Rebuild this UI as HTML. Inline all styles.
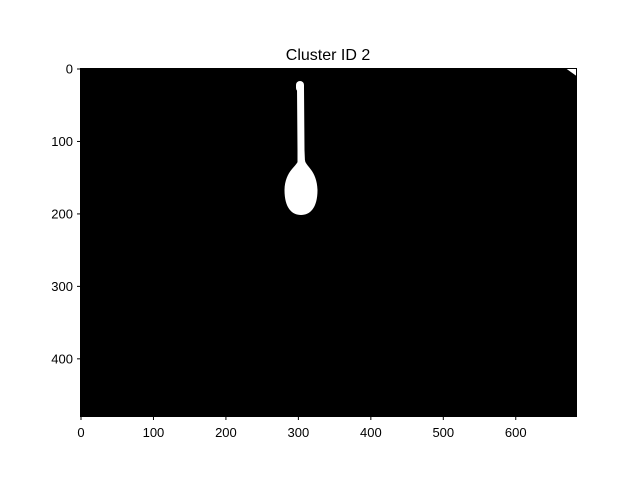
<!DOCTYPE html>
<html><head><meta charset="utf-8"><style>body{margin:0;background:#fff}svg{display:block}text{font-family:"Liberation Sans",sans-serif;font-size:13px;fill:#000}</style></head>
<body>
<svg id="c" width="640" height="480">
<text x="328" y="60" text-anchor="middle" style="font-size:16px">Cluster ID 2</text>
<rect x="80.5" y="68.5" width="496" height="348" fill="#000"/>
<g fill="#fff">
<rect x="296" y="81" width="8" height="11" rx="4"/>
<path d="M297,88 L304,88 L304.5,150 L305,162 L297.5,162 L297.5,150 Z"/>
<path d="M298,160 C298,166 285,170 284.5,190 C284.5,208 292,215 301,215 C310,215 317.5,208 317.5,190 C317,170 305,166 305,160 Z"/>
</g>
<path d="M566,68.5 L576.5,68.5 L576.5,76 Z" fill="#fff"/>
<rect x="80.5" y="68.5" width="496" height="348" fill="none" stroke="#000" stroke-width="1"/>
<g id="xt"></g>
<g id="yt"></g>
</svg>
<script>
const xTicks=[0,100,200,300,400,500,600];
const yTicks=[0,100,200,300,400];
const x0=81,y0=69,s=0.7246;
const ns="http://www.w3.org/2000/svg";
const xt=document.getElementById('xt'),yt=document.getElementById('yt');
xTicks.forEach(v=>{const x=x0+v*s;
const l=document.createElementNS(ns,'line');l.setAttribute('x1',x);l.setAttribute('x2',x);l.setAttribute('y1',416.5);l.setAttribute('y2',420);l.setAttribute('stroke','#000');


xt.appendChild(l);
const t=document.createElementNS(ns,'text');t.setAttribute('x',x);t.setAttribute('y',437);t.setAttribute('text-anchor','middle');t.textContent=v;


xt.appendChild(t);});
yTicks.forEach(v=>{const y=y0+v*s;
const l=document.createElementNS(ns,'line');l.setAttribute('x1',77);l.setAttribute('x2',80.5);l.setAttribute('y1',y);l.setAttribute('y2',y);l.setAttribute('stroke','#000');


yt.appendChild(l);
const t=document.createElementNS(ns,'text');t.setAttribute('x',73);t.setAttribute('y',y+4.5);t.setAttribute('text-anchor','end');t.textContent=v;


yt.appendChild(t);});
</script>
</body></html>
